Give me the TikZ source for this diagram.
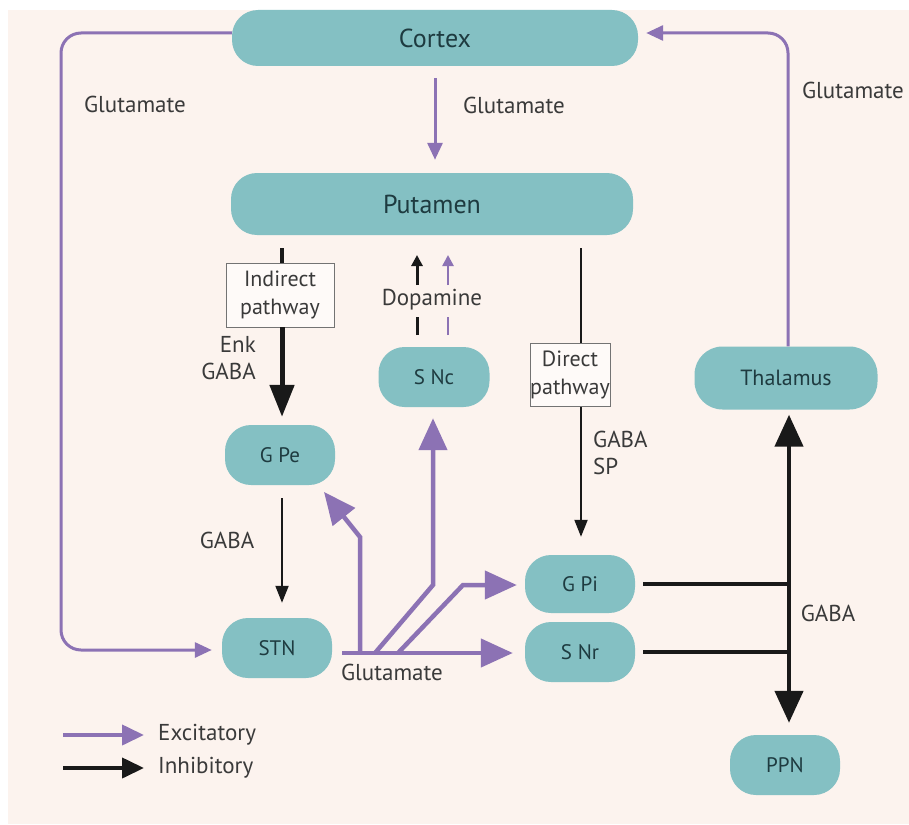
\documentclass[tikz,border=0pt]{standalone}
\usepackage{fontspec}
\setmainfont{PT Sans}
\usetikzlibrary{arrows.meta}
\definecolor{bgc}{HTML}{FCF3EE}
\definecolor{tealc}{HTML}{84C0C3}
\definecolor{purp}{HTML}{8C72B4}
\definecolor{txtc}{HTML}{3A3A3A}
\definecolor{ntxt}{HTML}{1E3B40}
\tikzset{
  nd/.style={fill=tealc, rounded corners=26pt, minimum height=60pt, inner sep=0pt,
    text=ntxt, font=\fontsize{21}{22}\selectfont},
  bignd/.style={nd, font=\fontsize{26}{28}\selectfont},
  pbox/.style={draw=black!55, line width=0.8pt, fill=white!60!bgc, inner sep=0pt,
    align=center, text=txtc, font=\fontsize{22}{28}\selectfont},
  lbl/.style={text=txtc, font=\fontsize{23}{27}\selectfont, inner sep=0pt},
  exc/.style={draw=purp, line width=3pt, -{Triangle[length=17pt,width=15pt]}},
  excT/.style={draw=purp, line width=4.5pt, -{Triangle[length=32pt,width=28pt]}},
  inh/.style={draw=black!90, line width=2pt, -{Triangle[length=17pt,width=13pt]}},
  inhT/.style={draw=black!90, line width=5pt, -{Triangle[length=32pt,width=24pt]}},
  dopb/.style={line width=3pt, -{Triangle[length=11pt,width=11pt]}},
}
\begin{document}
\begin{tikzpicture}[x=1pt,y=-1pt]
\useasboundingbox (0,0) rectangle (909,824);
\fill[white] (0,0) rectangle (909,824);
\fill[bgc] (8,10) rectangle (909,824);

% nodes
\node[bignd, minimum width=406pt, minimum height=56pt] (cortex) at (435,38) {Cortex};
\node[bignd, minimum width=402pt, minimum height=62pt] (put) at (432,204) {Putamen};
\node[nd, minimum width=110pt] (gpe) at (280,455) {G Pe};
\node[nd, minimum width=111pt] (snc) at (434,377) {S Nc};
\node[nd, minimum width=110pt] (stn) at (277,648) {STN};
\node[nd, minimum width=110pt, minimum height=58pt] (gpi) at (580,584) {G Pi};
\node[nd, minimum width=110pt] (snr) at (580,652) {S Nr};
\node[nd, minimum width=183pt, minimum height=63pt, rounded corners=28pt, font=\fontsize{22}{24}\selectfont] (thal) at (786,378) {Thalamus};
\node[nd, minimum width=110pt] (ppn) at (785,765) {PPN};
\node[pbox, minimum width=108pt, minimum height=64pt] (ind) at (280,295) {Indirect\\pathway};
\node[pbox, minimum width=80pt, minimum height=63pt] (dir) at (570,375) {Direct\\pathway};

% coordinates
\coordinate (cl) at (61,33);
\coordinate (cb) at (61,650);
\coordinate (cr) at (788,33);
\coordinate (indtop) at (282,248);
\coordinate (dirtop) at (581,248);
\coordinate (dirbot) at (581,407);
\coordinate (vx) at (789,600);
\coordinate (dbA) at (417,285);
\coordinate (dbB) at (417,255);
\coordinate (dbC) at (417,335);
\coordinate (dbD) at (417,317);
\coordinate (dpA) at (448,285);
\coordinate (dpB) at (448,255);
\coordinate (dpC) at (448,335);
\coordinate (dpD) at (448,317);
\coordinate (h0) at (342,653);
\coordinate (h1) at (360,653);
\coordinate (h1b) at (360,537);
\coordinate (gpet) at (324,492);
\coordinate (h2) at (375,653);
\coordinate (h2b) at (433,585);
\coordinate (h3) at (398,653);
\coordinate (h3b) at (463,585);

% cortex loops
\draw[exc, rounded corners=20pt, shorten >=10pt] (cl -| cortex.west) -- (cl) -- (cb) -- (cb -| stn.west);
\draw[exc, rounded corners=20pt, shorten >=8pt] (thal.north -| cr) -- (cr) -- (cr -| cortex.east);
\draw[exc, shorten <=12pt, shorten >=13pt] (cortex.south) -- (cortex.south |- put.north);

% indirect
\draw[draw=black!90, line width=4pt] (indtop) -- (indtop |- ind.north);
\draw[inhT, shorten >=8pt] (ind.south -| indtop) -- (gpe.north -| indtop);
\draw[inh, shorten <=13pt, shorten >=15pt] (gpe.south -| indtop) -- (stn.north -| indtop);

% direct
\draw[draw=black!90, line width=2pt] (dirtop) -- (dirtop |- dir.north);
\draw[inh, shorten >=18pt] (dirbot) -- (dirbot |- gpi.north);

% dopamine
\draw[dopb, black!90] (dbA) -- (dbB);
\draw[black!90, line width=3pt] (dbC) -- (dbD);
\draw[dopb, purp, line width=2.5pt] (dpA) -- (dpB);
\draw[purp, line width=2.5pt] (dpC) -- (dpD);

% STN glutamate hub
\draw[excT, shorten >=12pt] (h0) -- (h0 -| snr.west);
\draw[excT] (h1) -- (h1b) -- (gpet);
\draw[excT, shorten >=11pt] (h2) -- (h2b) -- (h2b |- snc.south);
\draw[excT, shorten >=8pt] (h3) -- (h3b) -- (h3b -| gpi.west);

% output GABA
\draw[draw=black!90, line width=4pt, shorten <=8pt] (gpi.east) -- (gpi.east -| vx);
\draw[draw=black!90, line width=4pt, shorten <=8pt] (snr.east) -- (snr.east -| vx);
\draw[draw=black!90, line width=4.5pt, {Triangle[length=32pt,width=28pt]}-{Triangle[length=32pt,width=28pt]}, shorten <=5pt, shorten >=12pt] (thal.south -| vx) -- (ppn.north -| vx);

% labels
\node[lbl] (g1) at (135,104) {Glutamate};
\node[lbl] (g2) at (514,105) {Glutamate};
\node[lbl] (g3) at (853,90) {Glutamate};
\node[lbl] (g4) at (392,672) {Glutamate};
\node[lbl, anchor=east, align=right] (enk) at (256,358) {Enk\\GABA};
\node[lbl] (dopa) at (432,300) {Dopamine};
\node[lbl] (gaba1) at (227,540) {GABA};
\node[lbl, anchor=west, align=left] (gabasp) at (593,453) {GABA\\SP};
\node[lbl] (gaba2) at (828,613) {GABA};

% legend
\coordinate (le1) at (63,735);
\coordinate (le2) at (63,768);
\node[lbl, anchor=west] (lexc) at (158,735) {Excitatory};
\node[lbl, anchor=west] (linh) at (158,768) {Inhibitory};
\draw[draw=purp, line width=4pt, -{Triangle[length=22pt,width=20pt]}, shorten >=14pt] (le1) -- (lexc.west);
\draw[draw=black!90, line width=4pt, -{Triangle[length=22pt,width=20pt]}, shorten >=14pt] (le2) -- (linh.west);
\end{tikzpicture}
\end{document}
